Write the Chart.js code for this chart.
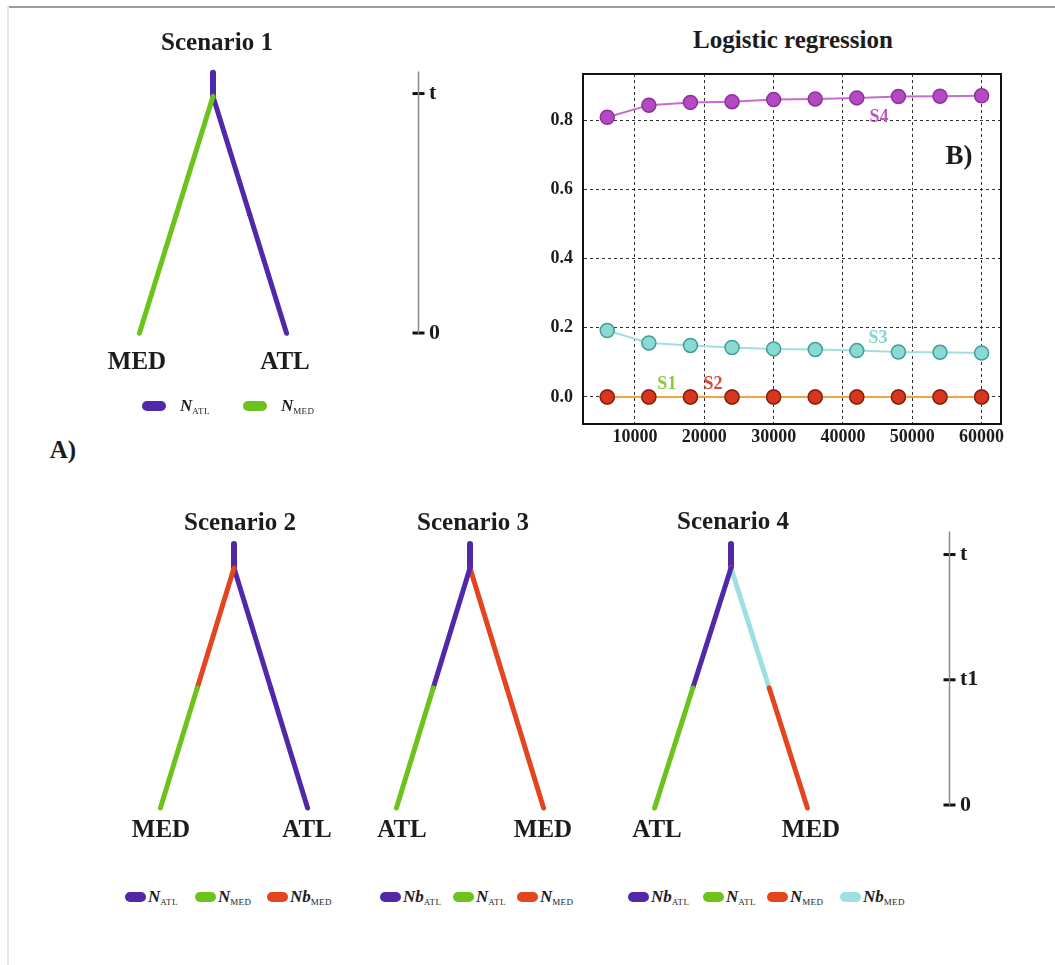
<!DOCTYPE html>
<html>
<head>
<meta charset="utf-8">
<script src="https://cdn.jsdelivr.net/npm/chart.js@4.4.1/dist/chart.umd.min.js"></script>
<style>
  body { margin: 0; background: #fff; }
  #fig { position: relative; width: 1055px; height: 965px; overflow: hidden;
         font-family: "Liberation Serif", "DejaVu Serif", serif; color: #1c1c1c; }
  #fig canvas { position: absolute; }
  .txt { position: absolute; font-weight: bold; white-space: nowrap; transform: translate(-50%, -50%); line-height: 1; }
  .frameTop { position: absolute; left: 7px; top: 6px; width: 1048px; height: 2px; background: #9c9c9c; }
  .frameLeft { position: absolute; left: 7px; top: 6px; width: 2px; height: 959px; background: #e8e8e8; }
  .item { position: absolute; display: flex; align-items: center; height: 20px; }
  .pill { height: 10px; border-radius: 5px; display: inline-block; }
  .lab { font-style: italic; font-weight: bold; font-size: 17px; white-space: nowrap; }
  .lab sub { font-style: normal; font-weight: normal; font-size: 9px; vertical-align: -3px; letter-spacing: 0.3px; }
</style>
</head>
<body>
<div id="fig">
  <div class="frameTop"></div>
  <div class="frameLeft"></div>
</div>
<script>
// ---- logistic regression (panel B) ----
const sampleSizes = [6000, 12000, 18000, 24000, 30000, 36000, 42000, 48000, 54000, 60000];
const s1Prob = [0, 0, 0, 0, 0, 0, 0, 0, 0, 0];
const s2Prob = [0, 0, 0, 0, 0, 0, 0, 0, 0, 0];
const s3Prob = [0.192, 0.156, 0.149, 0.143, 0.139, 0.137, 0.134, 0.130, 0.129, 0.127];
const s4Prob = [0.808, 0.843, 0.851, 0.853, 0.859, 0.861, 0.864, 0.868, 0.869, 0.870];
const xTickValues = [10000, 20000, 30000, 40000, 50000, 60000];
const yTickValues = [0, 0.2, 0.4, 0.6, 0.8];
const seriesNames = ['S1', 'S2', 'S3', 'S4'];
const labelAt = [[14600, 0.037], [21250, 0.037], [45060, 0.170], [45200, 0.809]];

// ---- scenario trees (panel A) ----
// times: 0 = present, t1, t = split; root stub goes a bit above t
const branchTimes = [0, 0.5, 1];
const rootTop = 1.1;
const leafSides = [-1, 1];
const timeTicks1 = [0, 1];
const timeLabels1 = ['0', 't'];
const timeTicks2 = [0, 0.5, 1];
const timeLabels2 = ['0', 't1', 't'];
const axisTop = 1.09;

const scenarioTitles = ['Scenario 1', 'Scenario 2', 'Scenario 3', 'Scenario 4'];
const leafNames = [['MED', 'ATL'], ['MED', 'ATL'], ['ATL', 'MED'], ['ATL', 'MED']];
// colour index per segment: left lower, left upper, right lower, right upper, root
const branchColourIdx = [
  [1, 1, 0, 0, 0],
  [1, 2, 0, 0, 0],
  [1, 0, 2, 2, 0],
  [1, 0, 2, 3, 0]
];
const legendNames = [
  [['N', 'ATL'], ['N', 'MED']],
  [['N', 'ATL'], ['N', 'MED'], ['Nb', 'MED']],
  [['Nb', 'ATL'], ['N', 'ATL'], ['N', 'MED']],
  [['Nb', 'ATL'], ['N', 'ATL'], ['N', 'MED'], ['Nb', 'MED']]
];

const palette = ['#5128a8', '#6cc31b', '#e3461f', '#9ee0e2'];
const labelColours = ['#8fc640', '#d8453a', '#86d4d2', '#c255c4'];
const serif = '"Liberation Serif", "DejaVu Serif", serif';

const fig = document.getElementById('fig');

function makeCanvas(left, top, w, h) {
  const c = document.createElement('canvas');
  c.width = w; c.height = h;
  c.style.left = left + 'px'; c.style.top = top + 'px';
  c.style.width = w + 'px'; c.style.height = h + 'px';
  fig.appendChild(c);
  return c;
}

function addText(str, x, y, size, colour) {
  const d = document.createElement('div');
  d.className = 'txt';
  d.textContent = str;
  d.style.left = x + 'px'; d.style.top = y + 'px';
  d.style.fontSize = size + 'px';
  if (colour) d.style.color = colour;
  fig.appendChild(d);
}

// keep scale boxes at fixed sizes so the plot areas land where they should
function fixBox(w, h) {
  return s => {
    if (w !== null) s.width = w;
    if (h !== null) s.height = h;
    s.paddingTop = 0; s.paddingBottom = 0; s.paddingLeft = 0; s.paddingRight = 0;
  };
}

const baseOpts = {
  responsive: false, animation: false, devicePixelRatio: 1,
  plugins: { legend: { display: false }, tooltip: { enabled: false } },
  events: []
};

function seg(data, colour, width) {
  return { data, borderColor: colour, borderWidth: width, pointRadius: 0, showLine: true,
           clip: false, borderCapStyle: 'round', fill: false };
}

// tree boxes: left, top, width, height of the canvas
const treeBoxes = [[110, 49, 206, 308], [131, 520, 206, 312], [367, 520, 206, 312], [624, 520, 214, 312]];

function drawTree(i) {
  const [left, top, w, h] = treeBoxes[i];
  const cv = makeCanvas(left, top, w, h);
  const idx = branchColourIdx[i];
  const datasets = [];
  leafSides.forEach((side, s) => {
    for (let k = 0; k < branchTimes.length - 1; k++) {
      const pts = [branchTimes[k], branchTimes[k + 1]].map(tm => ({ x: side * (1 - tm), y: tm }));
      datasets.push(seg(pts, palette[idx[s * 2 + k]], 5));
    }
  });
  datasets.push(seg([{ x: 0, y: branchTimes[2] }, { x: 0, y: rootTop }], palette[idx[4]], 6));
  new Chart(cv, {
    type: 'scatter',
    data: { datasets },
    options: Object.assign({}, baseOpts, {
      layout: { padding: 0 },
      scales: {
        x: { type: 'linear', display: false, min: -1.4, max: 1.4 },
        y: { type: 'linear', display: false, min: -0.1, max: 1.2 }
      }
    })
  });
}

function drawTimeAxis(left, top, h, ticks, labels) {
  const cv = makeCanvas(left, top, 54, h);
  new Chart(cv, {
    type: 'scatter',
    data: {
      datasets: [
        seg([{ x: 0, y: 0 }, { x: 0, y: axisTop }], '#8a8a8a', 1.5),
        { data: ticks.map(v => ({ x: 0, y: v })), showLine: false, pointStyle: 'line',
          pointRadius: 6, borderWidth: 3, borderColor: '#111', clip: false }
      ]
    },
    options: Object.assign({}, baseOpts, {
      layout: { padding: { top: 10, bottom: 10 } },
      scales: {
        x: { type: 'linear', display: false, min: -1, max: 1 },
        y: {
          type: 'linear', position: 'right', min: 0, max: axisTop,
          grid: { display: false, drawTicks: false }, border: { display: false },
          afterBuildTicks: s => { s.ticks = ticks.map(v => ({ value: v })); },
          afterFit: fixBox(34, null),
          ticks: { padding: 5, color: '#1c1c1c', font: { family: serif, weight: 'bold', size: 22 },
                   callback: (v, i) => labels[i] }
        }
      }
    })
  });
}

function addLegend(i, y, pillLefts, pillW, gap) {
  legendNames[i].forEach((nm, k) => {
    const it = document.createElement('div');
    it.className = 'item';
    it.style.left = pillLefts[k] + 'px';
    it.style.top = (y - 10) + 'px';
    it.innerHTML = '<span class="pill" style="background:' + palette[k] + ';width:' + pillW + 'px"></span>' +
      '<span class="lab" style="margin-left:' + gap + 'px">' + nm[0] + '<sub>' + nm[1] + '</sub></span>';
    fig.appendChild(it);
  });
}

// panel A
[0, 1, 2, 3].forEach(drawTree);
drawTimeAxis(404, 62, 281, timeTicks1, timeLabels1);
drawTimeAxis(935, 522, 293, timeTicks2, timeLabels2);

const titlePos = [[217, 41], [240, 521], [473, 521], [733, 520]];
const leafPos = [[[137, 360], [285, 360]], [[161, 828], [307, 828]], [[402, 828], [543, 828]], [[657, 828], [811, 828]]];
scenarioTitles.forEach((t, i) => addText(t, titlePos[i][0], titlePos[i][1], 25));
leafNames.forEach((pair, i) => pair.forEach((n, k) => addText(n, leafPos[i][k][0], leafPos[i][k][1], 25)));

addLegend(0, 406, [142, 243], 24, 14);
addLegend(1, 897, [125, 195, 267], 21, 2);
addLegend(2, 897, [380, 453, 517], 21, 2);
addLegend(3, 897, [628, 703, 767, 840], 21, 2);

addText('A)', 63, 449, 25);

// panel B
const seriesLabelPlugin = {
  id: 'seriesLabels',
  afterDatasetsDraw(chart) {
    const { ctx, scales: { x, y } } = chart;
    ctx.save();
    ctx.font = 'bold 18px ' + serif;
    ctx.textAlign = 'center';
    ctx.textBaseline = 'middle';
    seriesNames.forEach((n, i) => {
      ctx.fillStyle = labelColours[i];
      ctx.fillText(n, x.getPixelForValue(labelAt[i][0]), y.getPixelForValue(labelAt[i][1]));
    });
    ctx.restore();
  }
};

function series(vals, line, fill, edge, order) {
  return {
    data: sampleSizes.map((x, i) => ({ x, y: vals[i] })),
    borderColor: line, borderWidth: 2,
    pointRadius: 7, pointBackgroundColor: fill, pointBorderColor: edge, pointBorderWidth: 1.5,
    showLine: true, order
  };
}

const tickFont = { family: serif, weight: 'bold', size: 18 };
const logCanvas = makeCanvas(538, 64, 478, 390);
new Chart(logCanvas, {
  type: 'scatter',
  data: {
    datasets: [
      series(s1Prob, '#b9cf4c', '#7cc242', '#5a9a2a', 4),
      series(s2Prob, '#f0a540', '#d8361e', '#8c1c10', 3),
      series(s3Prob, '#9fe0da', '#8ad9d3', '#3f9e98', 2),
      series(s4Prob, '#c86ad0', '#b548c4', '#8b3496', 1)
    ]
  },
  options: Object.assign({}, baseOpts, {
    layout: { padding: { top: 10, right: 15, bottom: 0, left: 0 } },
    scales: {
      x: {
        type: 'linear', min: 2500, max: 62800,
        grid: { color: '#333', lineWidth: 1, drawTicks: false },
        border: { display: true, color: '#111', width: 2, dash: [3, 3] },
        afterBuildTicks: s => { s.ticks = xTickValues.map(v => ({ value: v })); },
        afterFit: fixBox(null, 30),
        ticks: { padding: 3, color: '#1c1c1c', font: tickFont, callback: v => String(v) }
      },
      y: {
        type: 'linear', min: -0.078, max: 0.933,
        grid: { color: '#333', lineWidth: 1, drawTicks: false },
        border: { display: true, color: '#111', width: 2, dash: [3, 3] },
        afterBuildTicks: s => { s.ticks = yTickValues.map(v => ({ value: v })); },
        afterFit: fixBox(45, null),
        ticks: { padding: 10, color: '#1c1c1c', font: tickFont, callback: v => v.toFixed(1) }
      },
      x2: {
        type: 'linear', position: 'top', ticks: { display: false },
        grid: { display: false, drawTicks: false }, border: { display: true, color: '#111', width: 2 },
        afterFit: fixBox(null, 0)
      },
      y2: {
        type: 'linear', position: 'right', ticks: { display: false },
        grid: { display: false, drawTicks: false }, border: { display: true, color: '#111', width: 2 },
        afterFit: fixBox(0, null)
      }
    }
  }),
  plugins: [seriesLabelPlugin]
});

addText('Logistic regression', 793, 39, 25);
addText('B)', 959, 155, 27);
</script>
</body>
</html>
